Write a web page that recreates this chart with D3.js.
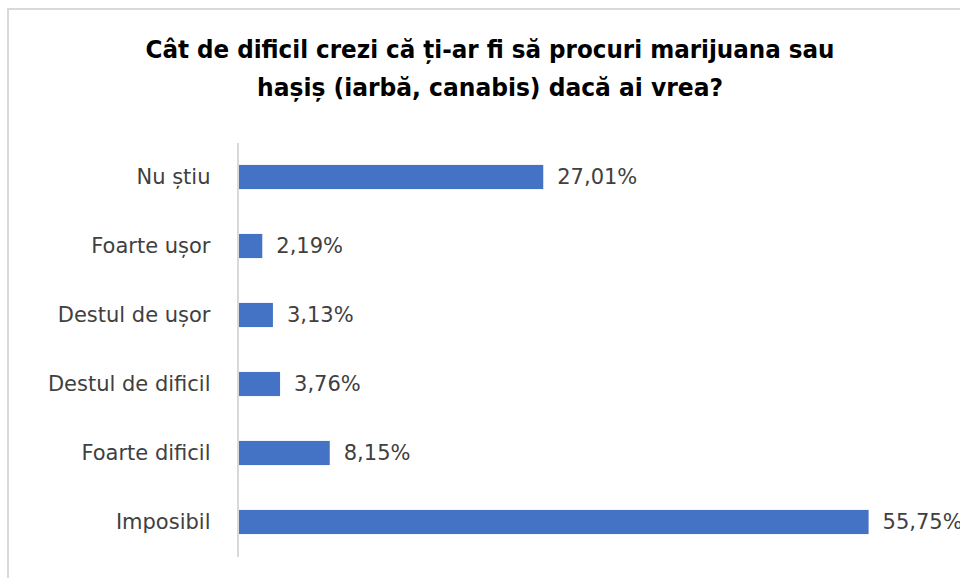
<!DOCTYPE html>
<html>
<head>
<meta charset="utf-8">
<script src="https://cdn.jsdelivr.net/npm/d3@7"></script>
<style>
html,body{margin:0;padding:0;background:#fff;}
svg{display:block;}
</style>
</head>
<body>
<svg id="chart" width="960" height="578"></svg>
<script>
const categories = ["Nu știu","Foarte ușor","Destul de ușor","Destul de dificil","Foarte dificil","Imposibil"];
const values = [27.01, 2.19, 3.13, 3.76, 8.15, 55.75];
const titleLines = ["Cât de dificil crezi că ți-ar fi să procuri marijuana sau","hașiș (iarbă, canabis) dacă ai vrea?"];

const svg = d3.select("#chart");
const W = 960, H = 578;

// chart border (cropped at right/bottom)
svg.append("rect").attr("x",8).attr("y",9).attr("width",W).attr("height",H)
  .attr("fill","#fff").attr("stroke","#d9d9d9").attr("stroke-width",2);

// title
svg.append("g").selectAll("text").data(titleLines).join("text")
  .attr("x",490).attr("y",(d,i)=>58+i*38)
  .attr("text-anchor","middle")
  .attr("font-family","'Liberation Sans Narrow', 'DejaVu Sans Condensed', 'Liberation Sans', sans-serif")
  .attr("font-weight","bold")
  .attr("font-size",24)
  .attr("fill","#000")
  .attr("textLength",(d,i)=> i===0 ? 689 : 466)
  .attr("lengthAdjust","spacingAndGlyphs")
  .text(d=>d);

const x = d3.scaleLinear().domain([0,60]).range([237.5,916.7]);
const y = d3.scaleBand().domain(categories).range([142.5,556.5]).paddingInner(0.65).paddingOuter(0.325);

// bars
svg.append("g").selectAll("rect").data(values).join("rect")
  .attr("x",x(0))
  .attr("y",(d,i)=>y(categories[i]))
  .attr("width",d=>x(d)-x(0))
  .attr("height",y.bandwidth())
  .attr("fill","#4472c4");

// y axis
const yAxis = d3.axisLeft(y).tickSize(0).tickPadding(27);
const gy = svg.append("g").attr("transform",`translate(${x(0)},0)`).call(yAxis);
gy.select(".domain").attr("stroke","#d9d9d9").attr("stroke-width",2);
gy.selectAll("text")
  .attr("font-family","'DejaVu Sans', sans-serif")
  .attr("font-size",21)
  .attr("fill","#404040");

// value labels
const fmt = v => v.toFixed(2).replace(".",",") + "%";
svg.append("g").selectAll("text").data(values).join("text")
  .attr("x",d=>x(d)+14)
  .attr("y",(d,i)=>y(categories[i])+y.bandwidth()/2)
  .attr("dy","0.35em")
  .attr("font-family","'DejaVu Sans', sans-serif")
  .attr("font-size",21)
  .attr("fill","#404040")
  .text(fmt);
</script>
</body>
</html>
